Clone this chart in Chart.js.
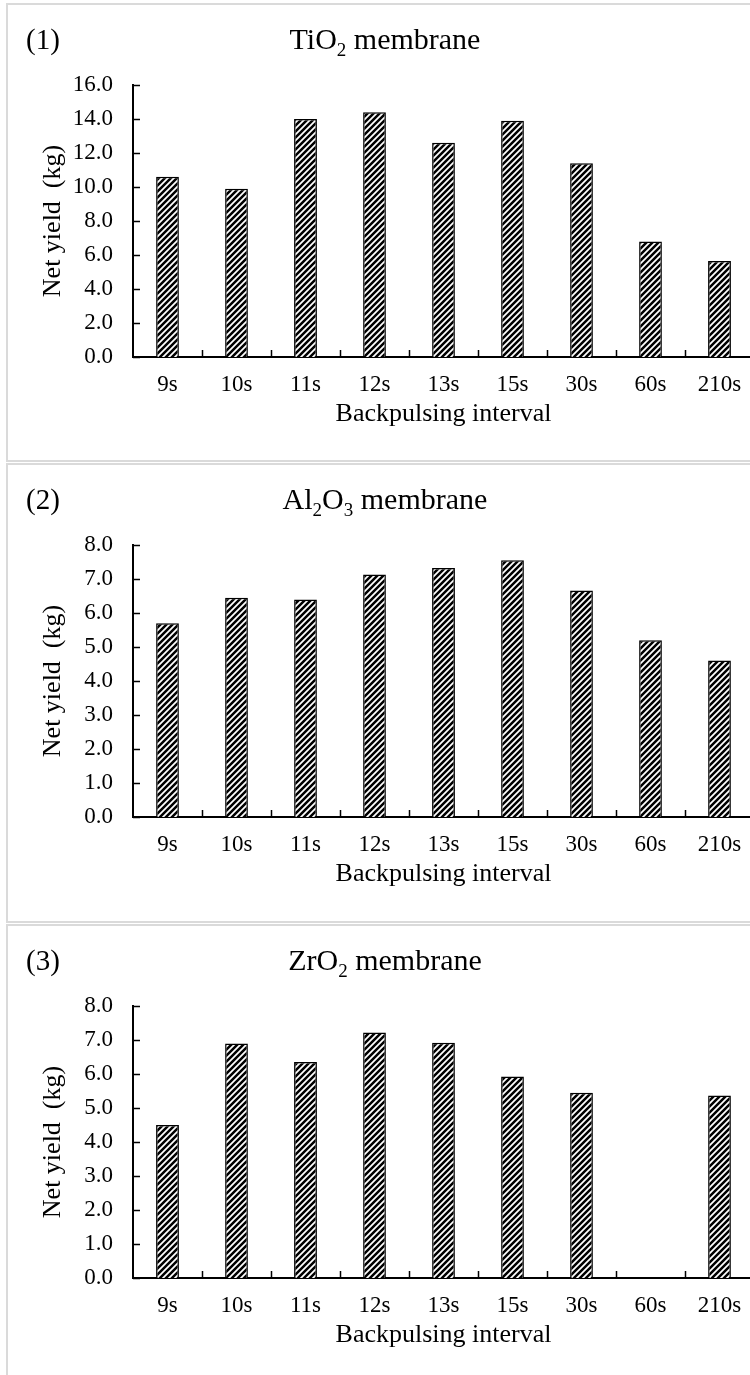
<!DOCTYPE html>
<html>
<head>
<meta charset="utf-8">
<script src="https://cdn.jsdelivr.net/npm/chart.js@4.4.0/dist/chart.umd.min.js"></script>
<style>
    html, body { margin: 0; padding: 0; background: #fff; overflow: hidden; }
    body { width: 750px; height: 1375px; position: relative; }
    .panel { position: absolute; left: 6px; width: 800px; border: 2px solid #dadada; box-sizing: border-box; background: #fff; }
    .panel canvas { position: absolute; left: 0; top: 0; }
</style>
</head>
<body>
<div class="panel" style="top:3px;height:459px"><canvas id="chart1" width="760" height="455"></canvas></div>
<div class="panel" style="top:463px;height:460px"><canvas id="chart2" width="760" height="455"></canvas></div>
<div class="panel" style="top:924px;height:500px"><canvas id="chart3" width="760" height="455"></canvas></div>
<script>
// Khoảng thời gian backpulse (trục x)
const intervals = ['9s', '10s', '11s', '12s', '13s', '15s', '30s', '60s', '210s'];

// Sản lượng ròng (kg) cho từng loại màng
const tio2Yield = [10.6, 9.9, 14.0, 14.4, 12.6, 13.9, 11.4, 6.8, 5.65];
const al2o3Yield = [5.7, 6.45, 6.4, 7.13, 7.32, 7.55, 6.66, 5.2, 4.6];
const zro2Yield = [4.5, 6.9, 6.35, 7.22, 6.92, 5.93, 5.45, null, 5.37];

// Giới hạn trục y
const yMaxes = [16, 8, 8];
const yStepSizes = [2, 1, 1];

// Tiêu đề từng biểu đồ (phần tử thứ hai là chỉ số dưới)
const panelNumbers = ['(1)', '(2)', '(3)'];
const titleParts = [
    [['TiO', false], ['2', true], [' membrane', false]],
    [['Al', false], ['2', true], ['O', false], ['3', true], [' membrane', false]],
    [['ZrO', false], ['2', true], [' membrane', false]]
];

const xTitle = 'Backpulsing interval';
const yTitle = 'Net yield  (kg)';

const FONT = "'Liberation Serif', 'Times New Roman', serif";
Chart.defaults.font.family = FONT;
Chart.defaults.color = '#000';

// Tạo mẫu gạch chéo cho cột
function makeHatch(ctx) {
    const c = document.createElement('canvas');
    c.width = 6;
    c.height = 6;
    const g = c.getContext('2d');
    g.fillStyle = '#fff';
    g.fillRect(0, 0, 6, 6);
    g.strokeStyle = '#000';
    g.lineWidth = 2.5;
    g.beginPath();
    g.moveTo(-1, 7); g.lineTo(7, -1);
    g.moveTo(-4, 4); g.lineTo(4, -4);
    g.moveTo(2, 10); g.lineTo(10, 2);
    g.stroke();
    return ctx.createPattern(c, 'repeat');
}

// Vạch chia hướng vào trong vùng vẽ
const inwardTicks = {
    id: 'inwardTicks',
    afterDraw(chart) {
        const { ctx, chartArea, scales } = chart;
        const x = scales.x, y = scales.y;
        ctx.save();
        ctx.strokeStyle = '#000';
        ctx.lineWidth = 1.5;
        ctx.beginPath();
        y.ticks.forEach((t, i) => {
            const py = Math.round(y.getPixelForTick(i)) + 0.5;
            ctx.moveTo(chartArea.left, py);
            ctx.lineTo(chartArea.left + 7, py);
        });
        for (let i = 1; i <= intervals.length; i++) {
            const px = Math.round(x.getPixelForValue(i - 0.5)) + 0.5;
            ctx.moveTo(px, chartArea.bottom);
            ctx.lineTo(px, chartArea.bottom - 7);
        }
        ctx.stroke();
        ctx.restore();
    }
};

// Tiêu đề có chỉ số dưới và số thứ tự
const panelHeader = {
    id: 'panelHeader',
    afterDraw(chart, args, opts) {
        const ctx = chart.ctx;
        ctx.save();
        ctx.fillStyle = '#000';
        ctx.textBaseline = 'alphabetic';
        ctx.textAlign = 'left';
        ctx.font = '29px ' + FONT;
        ctx.fillText(opts.number, 18, 44);

        const mainFont = '30px ' + FONT;
        const subFont = '19px ' + FONT;
        let total = 0;
        opts.parts.forEach(p => {
            ctx.font = p[1] ? subFont : mainFont;
            total += ctx.measureText(p[0]).width;
        });
        let cx = 377 - total / 2;
        opts.parts.forEach(p => {
            ctx.font = p[1] ? subFont : mainFont;
            ctx.fillText(p[0], cx, p[1] ? 51 : 44);
            cx += ctx.measureText(p[0]).width;
        });
        ctx.restore();
    }
};

function createYieldChart(canvasId, values, idx) {
    const canvas = document.getElementById(canvasId);
    const ctx = canvas.getContext('2d');
    return new Chart(canvas, {
        type: 'bar',
        data: {
            labels: intervals,
            datasets: [{
                data: values,
                backgroundColor: makeHatch(ctx),
                borderColor: '#000',
                borderWidth: 1.5,
                borderSkipped: 'bottom',
                categoryPercentage: 1.0,
                barPercentage: 0.33
            }]
        },
        options: {
            responsive: false,
            animation: false,
            layout: { padding: { left: 30, right: 14, top: 80, bottom: 30 } },
            plugins: {
                legend: { display: false },
                tooltip: { enabled: false },
                panelHeader: { number: panelNumbers[idx], parts: titleParts[idx] }
            },
            scales: {
                x: {
                    offset: true,
                    grid: { display: false, drawTicks: false, offset: true },
                    border: { display: true, color: '#000', width: 2 },
                    ticks: { padding: 14, font: { size: 23 }, maxRotation: 0 },
                    title: { display: true, text: xTitle, font: { size: 26 }, padding: 0 },
                    afterFit(scale) { scale.height = 73; }
                },
                y: {
                    min: 0,
                    max: yMaxes[idx],
                    grid: { display: false, drawTicks: false },
                    border: { display: true, color: '#000', width: 2 },
                    ticks: {
                        stepSize: yStepSizes[idx],
                        padding: 20,
                        font: { size: 23 },
                        callback: function(value) { return value.toFixed(1); }
                    },
                    title: { display: true, text: yTitle, font: { size: 26 }, padding: 0 },
                    afterFit(scale) { scale.width = 95; }
                }
            }
        },
        plugins: [inwardTicks, panelHeader]
    });
}

createYieldChart('chart1', tio2Yield, 0);
createYieldChart('chart2', al2o3Yield, 1);
createYieldChart('chart3', zro2Yield, 2);
</script>
</body>
</html>
